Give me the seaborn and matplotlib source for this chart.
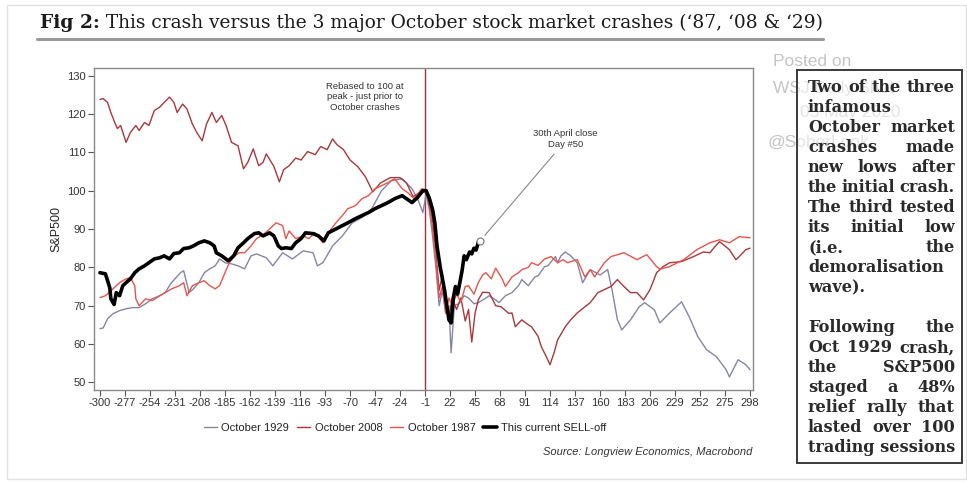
import numpy as np
import pandas as pd
import matplotlib
matplotlib.use("Agg")
import matplotlib.pyplot as plt
from matplotlib.lines import Line2D
from matplotlib.patches import Rectangle
import seaborn as sns

# ------------------------------------------------------------------ data
days_1929 = [-300, -297, -293, -288, -282, -276, -270, -264, -258, -252, -245, -240, -235, -231,
             -226, -223, -218, -214, -209, -204, -199, -194, -190, -185, -179, -173, -167, -161,
             -156, -147, -141, -132, -123, -113, -104, -100, -95, -86, -77, -68, -59, -50, -41,
             -32, -22, -13, -8, -3, 0, 3, 6, 9, 12, 15, 18, 21, 23, 26, 30, 35, 39, 44, 48, 55,
             58, 64, 67, 73, 79, 85, 88, 94, 100, 103, 109, 112, 119, 121, 124, 128, 133, 139,
             144, 151, 160, 167, 171, 176, 180, 188, 196, 201, 210, 215, 224, 235, 242, 250, 258,
             267, 276, 279, 287, 294, 298]
vals_1929 = [64.0, 64.2, 66.6, 67.9, 68.7, 69.2, 69.5, 69.5, 70.5, 71.8, 72.6, 73.4, 75.7, 77.0,
             78.6, 79.1, 73.4, 74.4, 76.0, 78.6, 79.6, 80.4, 82.2, 81.2, 80.9, 80.4, 79.6, 83.0,
             83.5, 82.5, 80.4, 83.8, 82.2, 84.3, 83.8, 80.4, 81.2, 85.6, 88.2, 91.6, 93.0, 95.3, 100.0,
             102.6, 103.1, 100.5, 98.0, 94.3, 99.0, 95.0, 88.0, 80.0, 70.0, 74.0, 68.0, 70.0, 57.7, 70.0,
             70.5, 72.6, 72.0, 70.5, 70.8, 72.0, 72.6, 71.5, 70.8, 72.6, 73.4, 75.2, 76.8, 75.2, 77.5,
             77.8, 80.2, 80.4, 82.8, 81.2, 83.0, 84.0, 83.0, 81.2, 76.0, 79.4, 78.0, 79.4, 74.2, 66.3,
             63.7, 66.3, 69.7, 70.8, 68.9, 65.5, 68.1, 71.0, 67.1, 61.9, 58.5, 56.7, 53.3, 51.4, 55.9,
             54.6, 53.3]

days_2008 = [-300, -297, -293, -290, -286, -284, -281, -276, -272, -267, -264, -259, -255, -250,
             -245, -241, -236, -232, -229, -224, -220, -215, -211, -206, -202, -197, -193, -188,
             -184, -179, -173, -168, -164, -159, -154, -150, -147, -140, -135, -131, -126, -120,
             -115, -109, -102, -97, -91, -86, -82, -76, -70, -63, -56, -49, -42, -33, -24, -18,
             -12, -6, -2, 0, 3, 6, 9, 12, 15, 18, 21, 24, 28, 32, 36, 39, 42, 45, 48, 52, 58, 64,
             69, 76, 79, 82, 88, 94, 97, 103, 106, 110, 114, 118, 121, 128, 133, 139, 146, 151, 158,
             164, 170, 176, 182, 188, 194, 200, 206, 212, 218, 224, 235, 246, 255, 261, 266, 270,
             279, 285, 288, 294, 298]
vals_2008 = [123.8, 124.0, 123.0, 120.4, 117.5, 116.2, 117.0, 112.6, 115.2, 117.0, 115.7, 117.8,
             117.0, 120.9, 121.8, 123.0, 124.4, 123.0, 120.4, 122.6, 121.3, 117.4, 115.2, 113.0,
             117.4, 120.4, 117.8, 119.6, 117.0, 112.6, 111.7, 105.7, 107.4, 110.9, 106.5, 107.4,
             109.6, 106.3, 102.3, 105.5, 106.5, 108.5, 108.0, 110.2, 109.4, 111.5, 110.7, 113.5,
             112.0, 110.7, 108.0, 106.3, 103.7, 99.7, 102.0, 103.4, 103.4, 102.0, 98.4, 99.5, 99.7,
             100.0, 96.0, 92.0, 84.0, 74.0, 78.0, 70.0, 67.0, 72.0, 69.0, 72.0, 66.0, 69.0, 60.5,
             68.0, 71.5, 73.5, 73.4, 70.0, 69.7, 68.0, 68.1, 64.5, 66.3, 65.0, 64.5, 62.0, 59.3,
             57.0, 54.6, 58.0, 61.1, 64.5, 66.3, 68.1, 69.7, 70.8, 73.4, 74.2, 75.0, 76.8, 75.0,
             73.4, 73.4, 71.5, 74.2, 78.6, 80.2, 81.2, 81.5, 82.8, 84.0, 83.8, 85.5, 86.7, 84.6,
             82.0, 82.8, 84.6, 85.0]

days_1987 = [-300, -295, -288, -282, -276, -272, -268, -267, -264, -258, -252, -245, -240, -234,
             -227, -223, -220, -215, -209, -204, -199, -194, -190, -185, -181, -176, -172, -167,
             -161, -156, -150, -144, -138, -132, -129, -126, -120, -113, -108, -102, -95, -90, -83,
             -77, -72, -65, -59, -53, -47, -41, -35, -29, -22, -17, -11, -4, 0, 3, 6, 9, 12, 15,
             18, 21, 24, 28, 32, 36, 39, 44, 48, 52, 55, 60, 64, 70, 73, 79, 85, 88, 94, 97, 103,
             109, 115, 121, 126, 130, 139, 146, 151, 155, 164, 170, 182, 194, 203, 212, 215, 224,
             237, 249, 261, 270, 279, 288, 298]
vals_1987 = [72.1, 72.6, 74.4, 76.0, 77.0, 77.3, 75.2, 71.8, 70.0, 71.8, 71.3, 72.6, 73.4, 74.4,
             75.2, 76.0, 72.6, 75.2, 76.0, 76.5, 75.2, 74.4, 75.2, 78.6, 81.2, 83.0, 83.8, 83.8,
             85.6, 87.5, 88.5, 90.0, 91.6, 90.9, 87.5, 89.5, 87.5, 88.2, 87.5, 89.0, 86.4, 89.0,
             91.6, 93.5, 95.3, 96.1, 97.9, 98.7, 100.5, 101.3, 102.1, 103.1, 100.5, 99.5, 97.9,
             100.5, 100.0, 97.0, 90.0, 82.0, 72.0, 75.0, 68.0, 72.0, 70.0, 73.0, 71.0, 75.0, 75.2,
             73.0, 76.0, 78.0, 78.6, 77.0, 79.8, 77.0, 75.0, 77.5, 78.6, 79.4, 80.0, 81.2, 80.5,
             82.2, 82.8, 81.2, 82.0, 81.2, 82.0, 77.5, 79.4, 77.5, 81.2, 82.8, 83.8, 82.0, 83.3,
             80.2, 79.5, 80.2, 82.0, 84.6, 86.4, 87.2, 86.4, 88.0, 87.7]

days_now = [-300, -295, -291, -290, -287, -285, -282, -279, -276, -272, -268, -264, -259, -255,
            -250, -245, -241, -236, -232, -227, -223, -218, -214, -209, -204, -199, -195, -193,
            -188, -182, -177, -173, -168, -164, -158, -154, -150, -144, -140, -136, -133, -129,
            -124, -120, -115, -111, -104, -99, -94, -90, -83, -77, -72, -65, -59, -53, -47, -41,
            -35, -29, -22, -18, -13, -8, -3, 0, 3, 6, 8, 10, 13, 15, 17, 19, 21, 23, 25, 27, 29,
            31, 33, 35, 37, 40, 42, 44, 46, 48, 50]
vals_now = [78.6, 78.3, 74.7, 71.8, 70.3, 73.4, 72.6, 75.2, 76.0, 77.0, 78.6, 79.6, 80.4, 81.2,
            82.2, 82.5, 83.0, 82.2, 83.6, 83.8, 84.9, 85.1, 85.6, 86.4, 86.9, 86.4, 85.6, 83.8,
            83.0, 81.7, 83.0, 85.1, 86.4, 87.5, 88.8, 89.0, 88.2, 89.0, 88.2, 85.6, 84.9, 85.1,
            84.9, 86.4, 87.5, 89.0, 88.8, 88.2, 86.9, 89.0, 90.0, 90.9, 91.6, 92.7, 93.5, 94.3,
            95.3, 96.1, 96.9, 97.9, 98.7, 97.9, 96.9, 98.2, 100.0, 100.0, 98.0, 95.0, 91.7, 85.6,
            80.0, 77.0, 74.0, 70.0, 66.3, 65.5, 72.0, 75.0, 73.0, 76.0, 79.0, 83.0, 82.0, 84.0,
            83.5, 85.0, 84.5, 86.5, 87.0]

peak_day = -1
xticks = list(range(-300, 299, 23))
yticks = [50, 60, 70, 80, 90, 100, 110, 120, 130]
series_names = ["October 1929", "October 2008", "October 1987", "This current SELL-off"]

title_bold = "Fig 2:"
title_rest = " This crash versus the 3 major October stock market crashes (\u201887, \u201808 & \u201829)"
note_rebased = "Rebased to 100 at\npeak - just prior to\nOctober crashes"
note_day50 = "30th April close\nDay #50"
source_text = "Source: Longview Economics, Macrobond"
box_para1 = ["Two of the three", "infamous", "October market", "crashes made", "new lows after",
             "the initial crash.", "The third tested", "its initial low", "(i.e. the",
             "demoralisation", "wave)."]
box_para2 = ["Following the", "Oct 1929 crash,", "the S&P500", "staged a 48%",
             "relief rally that", "lasted over 100", "trading sessions"]
watermark = [("Posted on", 773, 62), ("WSJ Daily Shot", 773, 88), ("05 May 2020", 800, 113),
             ("@SoberLook", 768, 142)]

# ------------------------------------------------------------------ style
sns.set_theme(style="white")
plt.rcParams["font.family"] = ["Liberation Sans", "DejaVu Sans"]
plt.rcParams["axes.unicode_minus"] = False

W, H = 967, 483
fig = plt.figure(figsize=(W / 100, H / 100), dpi=100)
fig.patch.set_facecolor("white")


def fx(px):
    return px / W


def fy(py):
    return 1 - py / H


# outer faint frame
fig.add_artist(Rectangle((fx(7), fy(479)), fx(966) - fx(7), fy(5) - fy(479),
                         transform=fig.transFigure, fill=False, ec="#e2e2e2", lw=1.0))

ax = fig.add_axes([fx(94), fy(390), (753 - 94) / W, (390 - 68) / H])

colors = {"October 1929": "#8585a6", "October 2008": "#a8383c",
          "October 1987": "#e8544c", "This current SELL-off": "#000000"}
widths = {"October 1929": 1.0, "October 2008": 1.0, "October 1987": 1.0,
          "This current SELL-off": 2.6}
data = {"October 1929": (days_1929, vals_1929), "October 2008": (days_2008, vals_2008),
        "October 1987": (days_1987, vals_1987), "This current SELL-off": (days_now, vals_now)}

for name in series_names:
    d, v = data[name]
    df = pd.DataFrame({"day": d, "value": v})
    sns.lineplot(data=df, x="day", y="value", ax=ax, color=colors[name],
                 linewidth=widths[name], estimator=None, sort=False, legend=False, zorder=3)

ax.axvline(peak_day, color="#9b3535", lw=1.0, zorder=2)

ax.set_xlim(-305.5, 300.7)
ax.set_ylim(48, 132)
ax.set_xticks(xticks)
ax.set_xticklabels([str(t) for t in xticks])
ax.set_yticks(yticks)
ax.set_xlabel("")
ax.set_ylabel("S&P500", fontsize=9, color="#222", labelpad=3)
ax.tick_params(axis="both", which="both", direction="out", length=4, width=0.8,
               color="#555", labelsize=8, labelcolor="#333", pad=2,
               bottom=True, left=True)
for s in ax.spines.values():
    s.set_color("#8a8a8a")
    s.set_linewidth(1.0)

# annotations
ax.text(0.411, 0.91, note_rebased, transform=ax.transAxes, ha="center", va="center",
        fontsize=6.8, color="#333", linespacing=1.25)
x_end, y_end = days_now[-1], vals_now[-1]
ax.plot([x_end], [y_end], marker="o", ms=5, mfc="white", mec="#777", mew=0.8, zorder=6)
ax.annotate(note_day50, xy=(x_end, y_end), xycoords="data", xytext=(0.715, 0.78),
            textcoords="axes fraction", ha="center", va="center", fontsize=6.8, color="#333",
            linespacing=1.25,
            arrowprops=dict(arrowstyle="-", color="#888", lw=0.8, shrinkA=2, shrinkB=5,
                            relpos=(0.4, 0.0)))

# legend
handles = [Line2D([0], [0], color=colors[n], lw=(2.6 if n.startswith("This") else 1.0))
           for n in series_names]
fig.legend(handles, series_names, loc="center", bbox_to_anchor=(fx(405), fy(428)), ncol=4,
           frameon=False, fontsize=8, handlelength=1.2, handletextpad=0.4,
           columnspacing=0.7, labelcolor="#222")

fig.text(fx(752), fy(452), source_text, ha="right", va="center", fontsize=8,
         style="italic", color="#333")

# ---------------------------------------------------------------- title
renderer = fig.canvas.get_renderer()
serif = ["DejaVu Serif"]


def draw_title(fs):
    t1 = fig.text(fx(40), fy(28), title_bold, fontsize=fs, fontweight="bold",
                  family=serif, color="#1a1a1a", va="baseline", ha="left")
    bb = t1.get_window_extent(renderer)
    t2 = fig.text(bb.x1 / W, fy(28), title_rest, fontsize=fs, family=serif,
                  color="#1a1a1a", va="baseline", ha="left")
    bb2 = t2.get_window_extent(renderer)
    return t1, t2, bb2.x1 - bb.x0


t1, t2, wid = draw_title(13)
fs_title = 13 * (822 - 40) / wid
t1.remove()
t2.remove()
draw_title(fs_title)
fig.add_artist(Line2D([fx(37), fx(823)], [fy(38.5), fy(38.5)], transform=fig.transFigure,
                      color="#9a9a9a", lw=2.2))

# ---------------------------------------------------------------- watermark
for txt, px, py in watermark:
    fig.text(fx(px), fy(py), txt, fontsize=12.5, color="#c4c4c4", ha="left", va="center",
             zorder=1)

# ---------------------------------------------------------------- text box
fig.add_artist(Rectangle((fx(797), fy(463)), fx(962) - fx(797), fy(70) - fy(463),
                         transform=fig.transFigure, fill=True, fc=(1, 1, 1, 0.55),
                         ec="#3a3a3a", lw=1.4, zorder=2))

probe = fig.text(0, 0, box_para1[0], fontsize=10, family=serif, fontweight="bold")
pw = probe.get_window_extent(renderer).width
probe.remove()
fs_box = 10 * 147 / pw

x_left, x_right = 808, 955
lines = []
for i, ln in enumerate(box_para1):
    lines.append((ln, i < len(box_para1) - 1))
lines.append(("", False))
for i, ln in enumerate(box_para2):
    lines.append((ln, i < len(box_para2) - 1))

y0, dy = 87, 20.05
for k, (ln, just) in enumerate(lines):
    if not ln:
        continue
    yy = fy(y0 + k * dy)
    words = ln.split(" ")
    if not just or len(words) == 1:
        fig.text(fx(x_left), yy, ln, fontsize=fs_box, family=serif, fontweight="bold",
                 color="#2a2a2a", ha="left", va="center", zorder=3)
        continue
    objs = [fig.text(0, yy, w_, fontsize=fs_box, family=serif, fontweight="bold",
                     color="#2a2a2a", ha="left", va="center", zorder=3) for w_ in words]
    ws = [o.get_window_extent(renderer).width for o in objs]
    gap = ((x_right - x_left) - sum(ws)) / (len(words) - 1)
    cur = x_left
    for o, w_ in zip(objs, ws):
        o.set_x(fx(cur))
        cur += w_ + gap

fig.savefig("out.png", dpi=100, facecolor="white")
